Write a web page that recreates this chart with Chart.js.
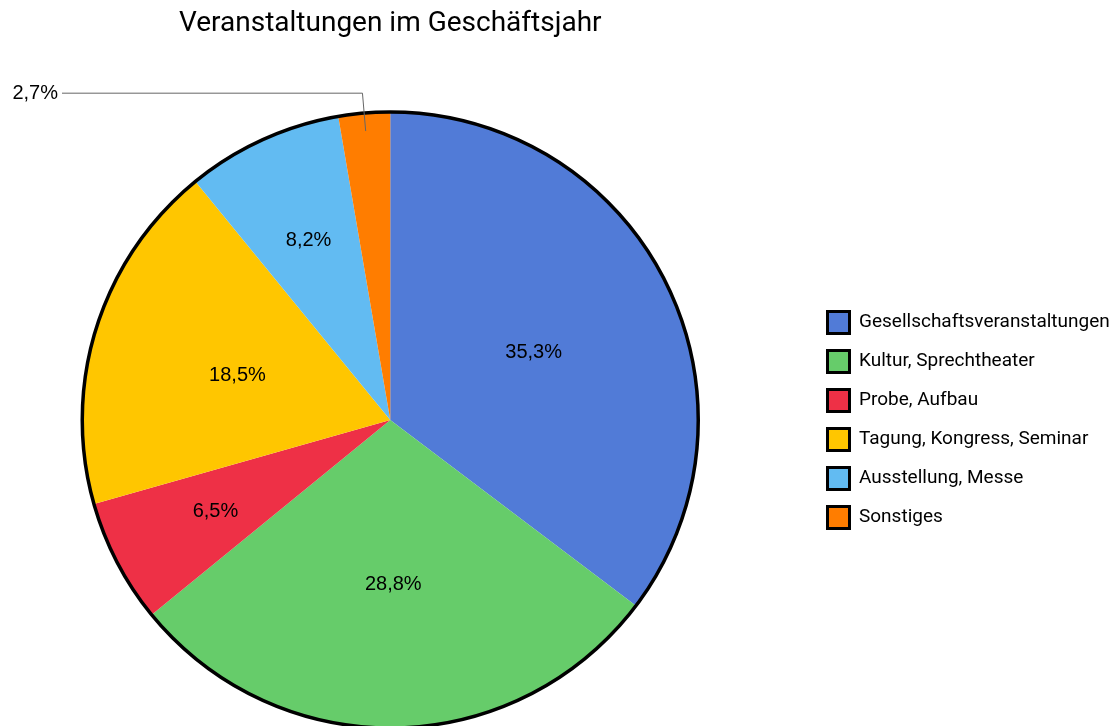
<!DOCTYPE html>
<html lang="de">
<head>
<meta charset="utf-8">
<title>Veranstaltungen im Geschäftsjahr</title>
<script src="https://cdn.jsdelivr.net/npm/chart.js@4"></script>
<style>
  html, body { margin: 0; padding: 0; background: #fff; overflow: hidden; }
  /* Canvas etwas breiter und nach links verschoben, damit die Torte bei x=390 liegt */
  #wrap { width: 1150px; height: 800px; margin-left: -30px; }
</style>
</head>
<body>
<div id="wrap"><canvas id="chart"></canvas></div>
<script>
// ------ Daten ------
const kategorien = [
  "Gesellschaftsveranstaltungen",
  "Kultur, Sprechtheater",
  "Probe, Aufbau",
  "Tagung, Kongress, Seminar",
  "Ausstellung, Messe",
  "Sonstiges",
];
const anteile = [35.3, 28.8, 6.5, 18.5, 8.2, 2.7];
const farben = ["#517bd7", "#66cc6a", "#ee3046", "#ffc600", "#62bbf2", "#ff7d00"];

const titel = "Veranstaltungen im Geschäftsjahr";
const legendFont = { family: "Roboto", size: 19 };
const SHIFT = 30; // Versatz Canvas -> Seite

function formatProzent(v) {
  return v.toLocaleString("de-DE", { minimumFractionDigits: 1 }) + "%";
}

// ------ Legendenbreite messen ------
const mctx = document.createElement("canvas").getContext("2d");
mctx.font = legendFont.size + "px " + legendFont.family;
const maxText = Math.max(...kategorien.map(t => mctx.measureText(t).width));
const legPad = 17, boxW = 22;
const legendWidth = legPad + boxW + legendFont.size / 2 + maxText + 10;
const legendLeft = 827.5 + SHIFT - legPad;
const padR = 1120 + SHIFT - legendLeft - legendWidth;

// ------ Plugin: Rand, Prozentwerte, Beschriftungslinie ------
const prozentLabels = {
  id: "prozentLabels",
  afterDatasetsDraw(chart) {
    const { ctx } = chart;
    const meta = chart.getDatasetMeta(0);
    ctx.save();
    const a0 = meta.data[0];
    // schwarzer Außenrand
    ctx.beginPath();
    ctx.arc(a0.x, a0.y, a0.outerRadius, 0, Math.PI * 2);
    ctx.lineWidth = 3.5;
    ctx.strokeStyle = "#000";
    ctx.stroke();

    ctx.font = '20px "Liberation Sans", Arial, sans-serif';
    ctx.fillStyle = "#000";
    ctx.textBaseline = "middle";
    meta.data.forEach((arc, i) => {
      const mid = (arc.startAngle + arc.endAngle) / 2;
      const r = arc.outerRadius;
      const txt = formatProzent(anteile[i]);
      if (anteile[i] < 5) {
        // kleines Segment: Wert außen mit Linie
        const ex = arc.x + Math.cos(mid) * (r - 18), ey = arc.y + Math.sin(mid) * (r - 18);
        const kx = arc.x + Math.cos(mid) * (r + 20), ky = arc.y + Math.sin(mid) * (r + 20);
        ctx.beginPath();
        ctx.moveTo(ex, ey);
        ctx.lineTo(kx, ky);
        ctx.lineTo(62 + SHIFT, ky);
        ctx.lineWidth = 1;
        ctx.strokeStyle = "#666";
        ctx.stroke();
        ctx.textAlign = "right";
        ctx.fillText(txt, 58 + SHIFT, ky);
      } else {
        const gross = anteile[i] > 15;
        const f = gross ? 0.52 : 0.64;
        ctx.textAlign = "center";
        ctx.fillText(txt, arc.x + Math.cos(mid) * r * f, arc.y + Math.sin(mid) * r * f + (gross ? 4 : 0));
      }
    });
    ctx.restore();
  },
};

// ------ Diagramm ------
new Chart(document.getElementById("chart"), {
  type: "pie",
  data: {
    labels: kategorien,
    datasets: [{
      data: anteile,
      backgroundColor: farben,
      borderWidth: 0,
      radius: 308,
    }],
  },
  options: {
    responsive: true,
    maintainAspectRatio: false,
    animation: false,
    layout: { padding: { left: 0, right: padR, top: 0, bottom: 17 } },
    plugins: {
      title: {
        display: true,
        text: titel,
        fullSize: false,
        color: "#000",
        font: { family: "Roboto", size: 28, weight: "normal" },
        padding: { top: 7, bottom: 16.4 },
      },
      legend: {
        position: "right",
        fullSize: false,
        align: "center",
        labels: {
          boxWidth: boxW,
          boxHeight: 22,
          padding: legPad,
          color: "#000",
          font: legendFont,
          generateLabels: (chart) => chart.data.labels.map((text, i) => ({
            text,
            fillStyle: farben[i],
            strokeStyle: "#000",
            lineWidth: 3,
            fontColor: "#000",
            hidden: false,
            index: i,
          })),
        },
      },
      tooltip: { enabled: false },
    },
  },
  plugins: [prozentLabels],
});
</script>
</body>
</html>
